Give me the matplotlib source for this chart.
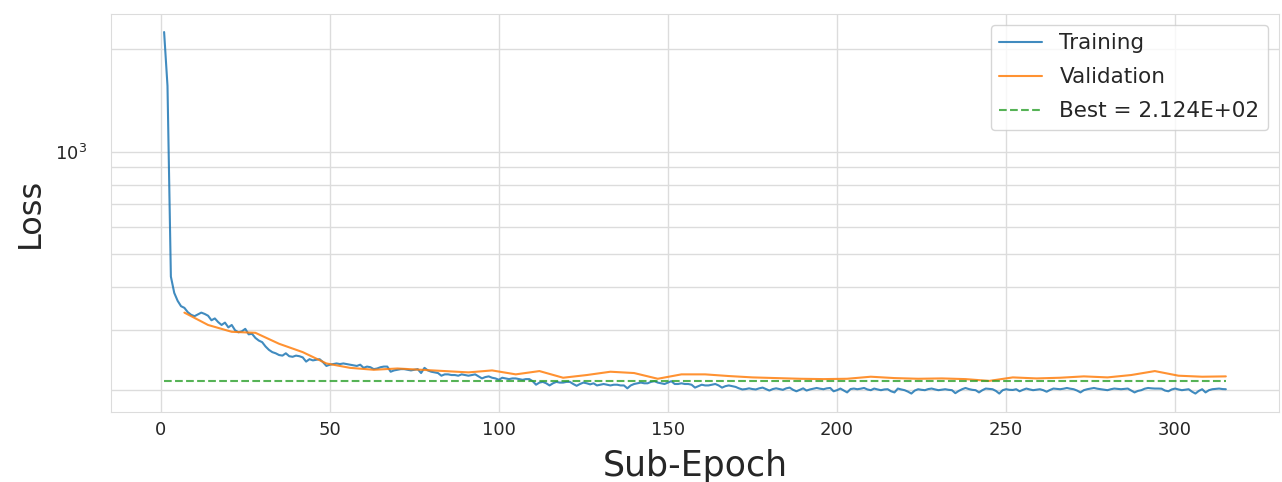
import numpy as np
import matplotlib
matplotlib.use("Agg")
import matplotlib.pyplot as plt
import seaborn as sns

# training loss per sub-epoch (1..315)
train_loss = [
    2245, 1560, 430, 385, 365, 352, 348, 338, 332, 329,
    333, 337, 334, 330, 320, 324, 316, 310, 315, 305,
    310, 299, 295, 297, 302, 291, 292, 284, 279, 276,
    268, 262, 258, 256, 253, 252, 256, 251, 250, 252,
    251, 249, 242, 246, 244, 245, 246, 241, 235, 237,
    238, 239, 238, 239, 238, 237, 236, 235, 237, 232,
    234, 233, 230, 231, 233, 234, 234, 226, 228, 229,
    230, 230, 229, 228, 229, 230, 224, 232, 228, 226,
    225, 224, 220, 222, 222, 221, 221, 220, 222, 221,
    220, 221, 222, 219, 216, 218, 219, 217, 216, 214,
    217, 216, 215, 216, 216, 215, 214, 215, 215, 212,
    207, 210, 211, 209, 206, 209, 211, 210, 210, 211,
    211, 208, 205.5, 208, 210, 209, 207.5, 209, 206, 207,
    208, 207, 206, 207, 207, 206, 206, 202, 206, 208,
    209, 210, 209, 209, 211, 212, 210, 209, 208, 210,
    212, 208, 208, 209, 208, 208, 207, 203, 205, 207,
    206, 206, 207, 208, 206, 203, 205, 206, 205, 204,
    202, 200.5, 201, 202, 201, 200.5, 202, 203, 201, 199,
    201, 202, 201, 200, 202, 203, 200, 198, 200, 202,
    199, 200.5, 201.5, 202.5, 201.5, 200.8, 202, 202.5, 198, 199.5,
    201.7, 199, 196.5, 201, 201.7, 200.8, 201.5, 202.5, 200.5, 199.5,
    201.7, 200.5, 199.5, 200.5, 200.8, 198, 196.5, 201.7, 200.5, 199.5,
    197.5, 195, 199, 200.8, 200, 199.5, 201, 201.7, 200.5, 199.5,
    200.2, 200.8, 200, 199.5, 195.5, 198.5, 200.8, 202.5, 201, 200,
    199.5, 196.5, 199.5, 201.7, 201.2, 200.8, 198.5, 195, 199.5, 200.8,
    200, 199.8, 200.8, 198, 200, 201.7, 200.5, 199.5, 200.2, 200.8,
    199.5, 197.4, 199.8, 201.7, 201.2, 200.8, 201.5, 202.5, 201.5, 200.8,
    199, 196.5, 199.5, 200.8, 201.7, 202.5, 201.5, 200.8, 200, 199.5,
    200.8, 201.7, 201.2, 200.8, 201.2, 201.7, 199, 196.5, 198.5, 199.5,
    201.5, 202.5, 202, 201.7, 201.7, 201.5, 199, 198, 200.5, 201.7,
    200.5, 199.5, 200.2, 200.8, 197.5, 195, 198.5, 200.8, 196.5, 199.5,
    200.8, 201.3, 201.7, 201, 200.8,
]
train_steps = np.arange(1, len(train_loss) + 1)

# validation loss, evaluated every 7 sub-epochs
val_steps = np.arange(7, 316, 7)
val_loss = [
    337, 310, 296, 294, 273, 258, 239, 232, 229, 231,
    229, 227, 225, 228, 222, 227, 217, 221, 226, 224,
    215.5, 222, 222, 219.5, 217.5, 216.5, 215.5, 215, 215.5, 218.5,
    216.5, 215.5, 216, 215, 212.4, 217.5, 216, 217, 219, 217.5,
    221, 227, 220, 218.5, 219,
]

best = min(val_loss)

sns.set_style("whitegrid")

fig = plt.figure(figsize=(12.82, 4.82), dpi=100)
ax = fig.add_axes([0.0866, 0.146, 0.911, 0.825])

ax.plot(train_steps, train_loss, color="#1f77b4", alpha=0.85, lw=1.5, label="Training")
ax.plot(val_steps, val_loss, color="#ff7f0e", alpha=0.85, lw=1.5, label="Validation")
ax.plot([train_steps[0], train_steps[-1]], [best, best], color="#2ca02c", alpha=0.8,
        ls="--", lw=1.5, label="Best = {:.3E}".format(best))

ax.set_yscale("log")
ax.grid(True, which="both", color="#dcdcdc", lw=1)
for s in ax.spines.values():
    s.set_color("#dcdcdc")

ax.set_xlabel("Sub-Epoch", fontsize=25, labelpad=7)
ax.set_ylabel("Loss", fontsize=23, labelpad=6)
ax.tick_params(labelsize=13)
ax.tick_params(axis="y", pad=14)
ax.legend(loc="upper right", fontsize=15.5, labelspacing=0.65)

fig.savefig("out.png", dpi=100)
